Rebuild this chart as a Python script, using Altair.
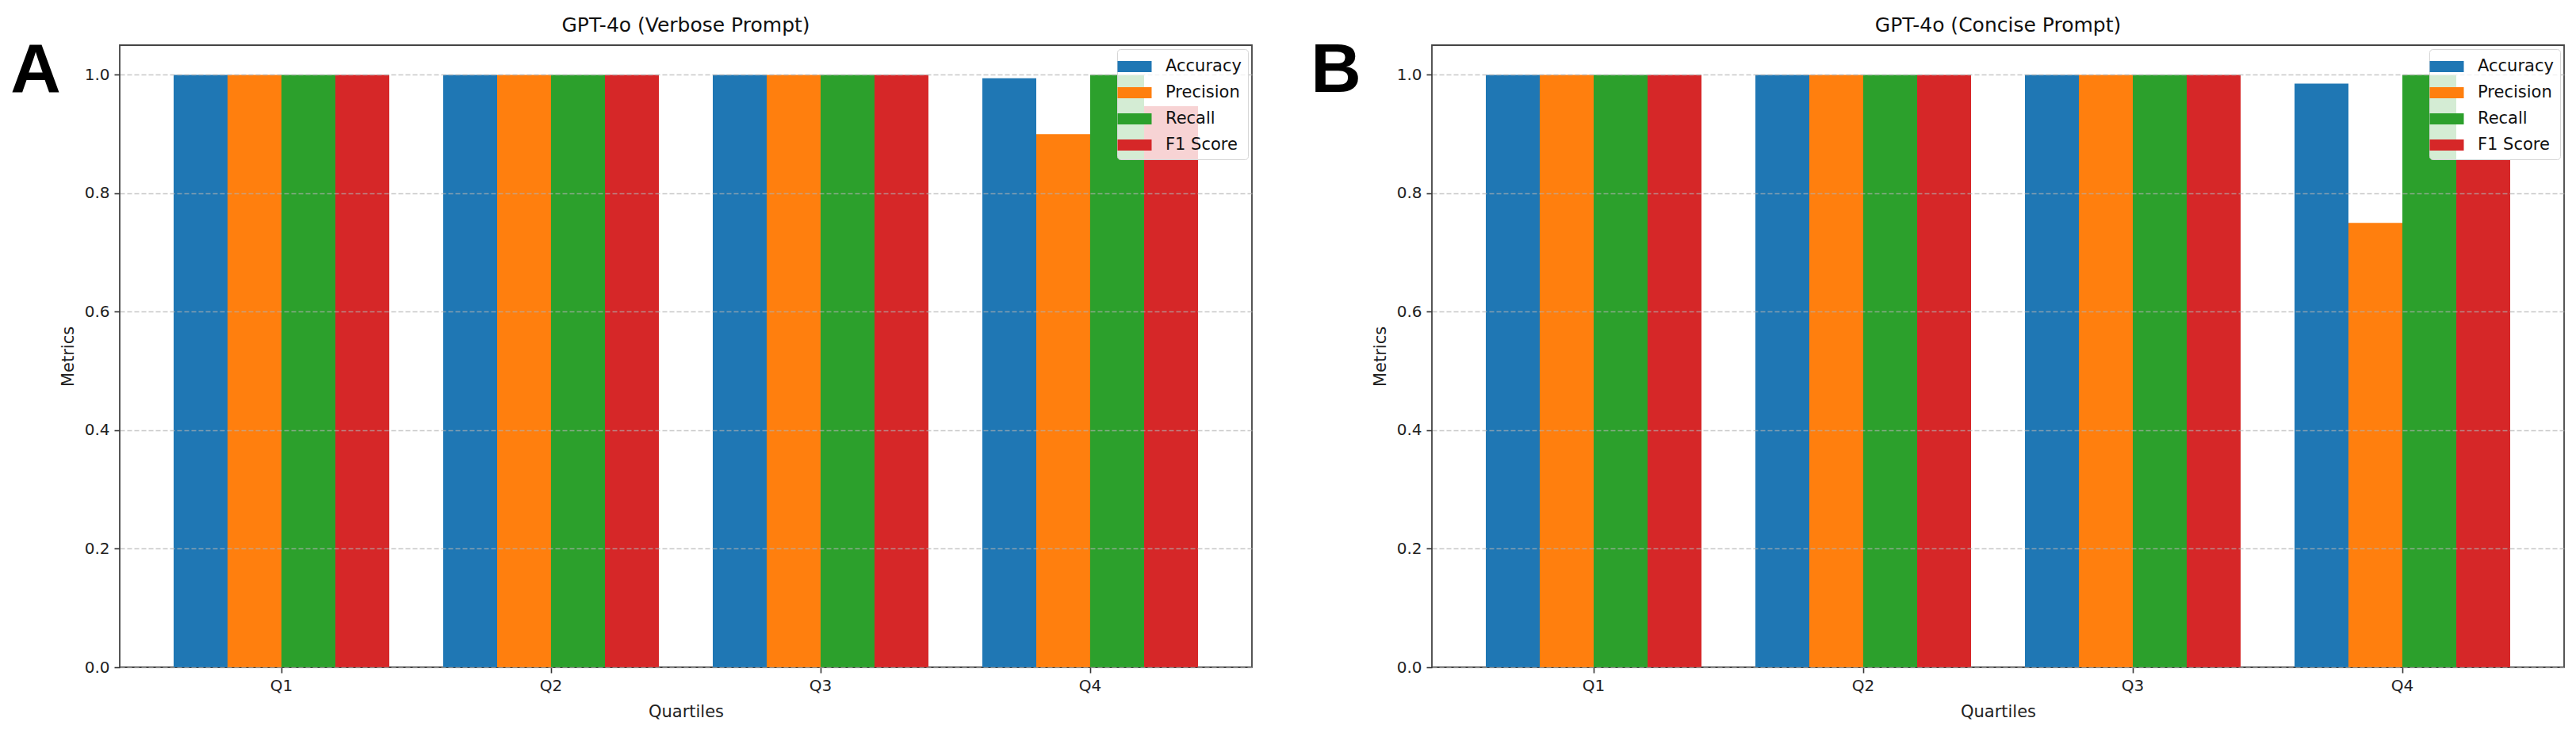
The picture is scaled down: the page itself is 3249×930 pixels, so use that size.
import altair as alt
import pandas as pd

quartiles = ["Q1", "Q2", "Q3", "Q4"]
metrics = ["Accuracy", "Precision", "Recall", "F1 Score"]
colors = ["#1f77b4", "#ff7f0e", "#2ca02c", "#d62728"]

verbose_accuracy = [1.0, 1.0, 1.0, 0.994]
verbose_precision = [1.0, 1.0, 1.0, 0.90]
verbose_recall = [1.0, 1.0, 1.0, 1.0]
verbose_f1 = [1.0, 1.0, 1.0, 0.947]

concise_accuracy = [1.0, 1.0, 1.0, 0.985]
concise_precision = [1.0, 1.0, 1.0, 0.75]
concise_recall = [1.0, 1.0, 1.0, 1.0]
concise_f1 = [1.0, 1.0, 1.0, 0.857]

y_ticks = [0.0, 0.2, 0.4, 0.6, 0.8, 1.0]

FONT = "DejaVu Sans"
W, H = 1428, 785


def make_df(series):
    rows = []
    for m, vals in zip(metrics, series):
        for q, v in zip(quartiles, vals):
            rows.append({"Quartile": q, "Metric": m, "Value": v})
    return pd.DataFrame(rows)


def panel(df, title, letter, letter_x):
    bars = alt.Chart(df).mark_bar(opacity=1).encode(
        x=alt.X(
            "Quartile:N",
            sort=quartiles,
            scale=alt.Scale(paddingInner=0.2, paddingOuter=0.2),
            axis=alt.Axis(
                title="Quartiles", labelAngle=0, labelFont=FONT, labelFontSize=20,
                labelColor="#222", titleFont=FONT, titleFontSize=21,
                titleFontWeight="normal", titleColor="#222", titlePadding=12,
                tickSize=7, tickColor="#333", tickWidth=1.6, labelPadding=6,
                domain=False, grid=False,
            ),
        ),
        xOffset=alt.XOffset(
            "Metric:N", sort=metrics,
            scale=alt.Scale(paddingInner=0, paddingOuter=0),
        ),
        y=alt.Y(
            "Value:Q",
            scale=alt.Scale(domain=[0, 1.05], nice=False, zero=True),
            axis=alt.Axis(
                title="Metrics", values=y_ticks, format=".1f", labelFont=FONT,
                labelFontSize=20, labelColor="#222", titleFont=FONT,
                titleFontSize=21, titleFontWeight="normal", titleColor="#222",
                titlePadding=10, tickSize=7, tickColor="#333", tickWidth=1.6,
                labelPadding=6, domain=False, grid=True, gridColor="#b0b0b0",
                gridOpacity=0.7, gridWidth=1.6, gridDash=[6, 3], zindex=1,
            ),
        ),
        color=alt.Color(
            "Metric:N",
            sort=metrics,
            scale=alt.Scale(domain=metrics, range=colors),
            legend=alt.Legend(
                title=None, orient="top-right", offset=5,
                fillColor="rgba(255,255,255,0.8)", strokeColor="#d6d6d6",
                cornerRadius=4, padding=8, labelFont=FONT, labelFontSize=21,
                labelColor="#111", symbolType="M-1.536,-0.5H1.536V0.5H-1.536Z",
                symbolSize=784, symbolStrokeWidth=0, symbolOpacity=1,
                labelOffset=25, rowPadding=9, zindex=2,
            ),
        ),
    )
    lab = alt.Chart(pd.DataFrame({"t": [letter]})).mark_text(
        font="Liberation Sans", fontWeight="bold", fontSize=88, color="black",
        align="center", baseline="alphabetic",
    ).encode(x=alt.value(letter_x), y=alt.value(59), text="t:N")
    return alt.layer(bars, lab).properties(
        width=W, height=H,
        title=alt.Title(
            title, font=FONT, fontSize=25, fontWeight="normal", color="#111",
            baseline="alphabetic", offset=-19,
        ),
    )


df_a = make_df([verbose_accuracy, verbose_precision, verbose_recall, verbose_f1])
df_b = make_df([concise_accuracy, concise_precision, concise_recall, concise_f1])

chart = alt.hconcat(
    panel(df_a, "GPT-4o (Verbose Prompt)", "A", -106),
    panel(df_b, "GPT-4o (Concise Prompt)", "B", -121),
    spacing=72,
).resolve_scale(color="independent").resolve_legend(color="independent").configure_view(
    stroke="#444", strokeWidth=1.8
).properties(
    padding={"left": 4, "top": 11, "right": 5, "bottom": 5},
    background="white",
)

chart.save("out.html", embed_options={"renderer": "svg", "actions": False})
